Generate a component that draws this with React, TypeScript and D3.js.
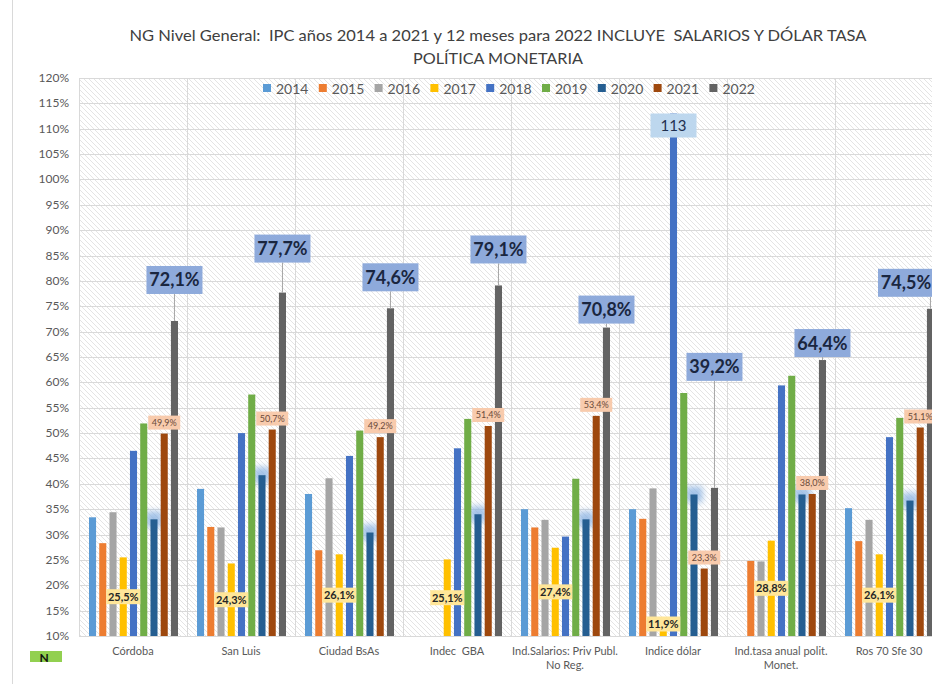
import React from "react";
import * as d3 from "d3";

const categories = [
  "Córdoba",
  "San Luis",
  "Ciudad BsAs",
  "Indec  GBA",
  "Ind.Salarios: Priv Publ.\nNo Reg.",
  "Indice dólar",
  "Ind.tasa anual polit.\nMonet.",
  "Ros 70 Sfe 30",
];

const years = ["2014", "2015", "2016", "2017", "2018", "2019", "2020", "2021", "2022"];

const v2014 = [33.4, 39.0, 38.0, null, 35.0, 35.0, null, 35.2];
const v2015 = [28.3, 31.5, 26.9, null, 31.4, 33.1, 24.8, 28.7];
const v2016 = [34.4, 31.4, 41.1, null, 32.9, 39.1, 24.7, 32.9];
const v2017 = [25.5, 24.3, 26.1, 25.1, 27.4, 11.9, 28.8, 26.1];
const v2018 = [46.5, 50.0, 45.5, 47.0, 29.6, 113, 59.4, 49.2];
const v2019 = [51.9, 57.6, 50.5, 52.8, 41.0, 57.9, 61.3, 53.0];
const v2020 = [33.0, 41.7, 30.4, 34.0, 33.0, 37.9, 37.9, 36.7];
const v2021 = [49.9, 50.7, 49.2, 51.4, 53.4, 23.3, 38.0, 51.1];
const v2022 = [72.1, 77.7, 74.6, 79.1, 70.8, 39.2, 64.4, 74.5];

const series = [v2014, v2015, v2016, v2017, v2018, v2019, v2020, v2021, v2022];

const colors = [
  "#5b9bd5",
  "#ed7d31",
  "#a5a5a5",
  "#ffc000",
  "#4472c4",
  "#70ad47",
  "#255e91",
  "#9e480e",
  "#636363",
];

// manual lift (px) of the big 2022 callouts above their bars
const bigLabelLift = [41, 44, 31, 36, 18, 121, 17, 26];

const W = 932;
const H = 684;
const left = 79;
const top = 78;
const bottom = 636;
const font = "Lato, 'Open Sans', sans-serif";

const fmt = (v: number) => v.toFixed(1).replace(".", ",") + "%";

export default function App() {
  const x = d3.scaleBand().domain(categories).range([left, left + 108 * 8]).padding(0);
  const xi = d3.scaleBand().domain(years).range([10, 99]).paddingInner(0.31).paddingOuter(0);
  const y = d3.scaleLinear().domain([10, 120]).range([bottom, top]);
  const yTicks = d3.range(10, 121, 5);
  const bw = xi.bandwidth();

  const barX = (ci: number, yi: number) => (x(categories[ci]) as number) + (xi(years[yi]) as number);

  return (
    <div>
      <svg
        width={W}
        height={H}
        style={{ position: "absolute", left: 0, top: 0, background: "#fff" }}
        fontFamily={font}
      >
        <defs>
          <pattern id="hatch" patternUnits="userSpaceOnUse" width={5} height={5}>
            <rect width={5} height={5} fill="#fff" />
            <path d="M0,0 L5,5 M-1,4 L1,6 M4,-1 L6,1" stroke="#e4e4e4" strokeWidth={1} />
          </pattern>
          <filter id="glow" x="-50%" y="-50%" width="200%" height="200%">
            <feGaussianBlur stdDeviation={3} />
          </filter>
          <clipPath id="clip">
            <rect x={0} y={0} width={W} height={H} />
          </clipPath>
        </defs>

        <line x1={12.5} x2={12.5} y1={0} y2={H} stroke="#d9d9d9" />

        <text
          x={498}
          y={41}
          textAnchor="middle"
          fontSize={16}
          fill="#404040"
          textLength={737}
          lengthAdjust="spacingAndGlyphs"
          style={{ whiteSpace: "pre" }}
        >
          {"NG Nivel General:  IPC años 2014 a 2021 y 12 meses para 2022 INCLUYE  SALARIOS Y DÓLAR TASA"}
        </text>
        <text x={498} y={64} textAnchor="middle" fontSize={16} fill="#404040" textLength={170} lengthAdjust="spacingAndGlyphs">
          POLÍTICA MONETARIA
        </text>

        <g clipPath="url(#clip)">
          <rect x={left} y={top} width={108 * 8} height={bottom - top} fill="url(#hatch)" />
          {yTicks.map((t) => (
            <line key={t} x1={left} x2={W} y1={Math.round(y(t)) + 0.5} y2={Math.round(y(t)) + 0.5} stroke="#d9d9d9" />
          ))}
          {categories.map((c) => (
            <line
              key={c}
              x1={Math.round(x(c) as number) + 0.5}
              x2={Math.round(x(c) as number) + 0.5}
              y1={top}
              y2={bottom}
              stroke="#d9d9d9"
            />
          ))}

          {/* legend */}
          {years.map((yr, i) => (
            <g key={yr} transform={`translate(${263 + i * 55.8},0)`}>
              <rect x={0} y={84} width={8} height={8} fill={colors[i]} />
              <text x={13} y={93.5} fontSize={14} fill="#595959">
                {yr}
              </text>
            </g>
          ))}

          {/* glow behind 2020 bars */}
          {v2020.map((v, ci) => (
            <rect
              key={"g" + ci}
              x={barX(ci, 6) - 5}
              y={y(v) - 8}
              width={bw + 10}
              height={16}
              fill="#8db4e2"
              opacity={0.8}
              filter="url(#glow)"
            />
          ))}

          {series.map((vals, yi) =>
            vals.map((v, ci) =>
              v == null ? null : (
                <rect
                  key={yi + "-" + ci}
                  x={barX(ci, yi)}
                  y={y(v)}
                  width={bw}
                  height={y(10) - y(v)}
                  fill={colors[yi]}
                />
              )
            )
          )}

          {/* 2017 labels */}
          {v2017.map((v, ci) => {
            const cx = barX(ci, 3) + bw / 2;
            const cy = Math.min((y(v) + y(10)) / 2, 624);
            return (
              <g key={"l17" + ci}>
                <rect x={cx - 17} y={cy - 7.5} width={34} height={15} fill="#ffe699" />
                <text x={cx} y={cy + 4} textAnchor="middle" fontSize={11} fontWeight="bold" fill="#262626">
                  {fmt(v)}
                </text>
              </g>
            );
          })}

          {/* 2021 labels */}
          {v2021.map((v, ci) => {
            const cx = barX(ci, 7) + bw / 2;
            const cy = y(v) - 11;
            return (
              <g key={"l21" + ci}>
                <rect x={cx - 16} y={cy - 7} width={32} height={14} fill="#f8cbad" />
                <text x={cx} y={cy + 3.2} textAnchor="middle" fontSize={9} fill="#6b4a3a">
                  {fmt(v)}
                </text>
              </g>
            );
          })}

          {/* 2018 dólar label */}
          {v2018.map((v, ci) => {
            if (v < 100) return null;
            const cx = barX(ci, 4) + bw / 2;
            const cy = y(v) + 12;
            return (
              <g key={"l18" + ci}>
                <rect x={cx - 23} y={cy - 12} width={46} height={24} fill="#bdd7ee" />
                <text x={cx} y={cy + 5} textAnchor="middle" fontSize={15} fill="#1f3050">
                  {Math.round(v)}
                </text>
              </g>
            );
          })}

          {/* 2022 callouts */}
          {v2022.map((v, ci) => {
            const bx = barX(ci, 8) + bw / 2;
            const cy = y(v) - bigLabelLift[ci];
            const bxLeft = Math.min(bx - 28, W - 54);
            return (
              <g key={"l22" + ci}>
                <line x1={bx} x2={bx} y1={cy + 14} y2={y(v)} stroke="#a6a6a6" />
                <rect x={bxLeft} y={cy - 14} width={56} height={28} fill="#8eaadb" />
                <text x={bxLeft + 28} y={cy + 6.5} textAnchor="middle" fontSize={18} fontWeight="bold" fill="#1a2640">
                  {fmt(v)}
                </text>
              </g>
            );
          })}
        </g>

        {/* y axis labels */}
        {yTicks.map((t) => (
          <text key={t} x={69} y={y(t) + 4} textAnchor="end" fontSize={12} fill="#595959">
            {t}%
          </text>
        ))}

        {/* x axis labels */}
        {categories.map((c) => {
          const lines = c.split("\n");
          const cx = (x(c) as number) + x.bandwidth() / 2;
          return (
            <text key={c} x={cx} y={655} textAnchor="middle" fontSize={11} fill="#595959" style={{ whiteSpace: "pre" }}>
              {lines.map((l, i) => (
                <tspan key={i} x={cx} dy={i === 0 ? 0 : 14}>
                  {l}
                </tspan>
              ))}
            </text>
          );
        })}

        <rect x={30} y={651} width={32} height={11} fill="#92d050" />
        <text x={44} y={662} textAnchor="middle" fontSize={12} fontWeight="bold" fill="#111">
          N
        </text>
      </svg>
    </div>
  );
}
